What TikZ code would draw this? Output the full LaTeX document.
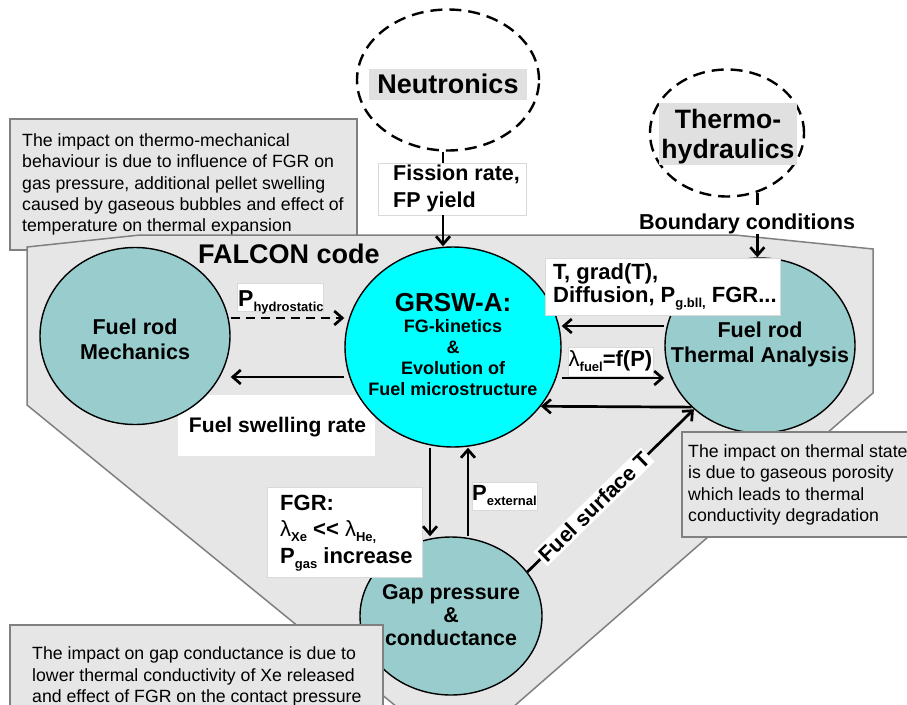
\documentclass[tikz,border=0pt]{standalone}
\usepackage{fontspec}
\setmainfont{Liberation Sans}
\usetikzlibrary{arrows.meta,shapes.geometric}
\definecolor{tealc}{RGB}{153,204,204}
\definecolor{cyanc}{RGB}{0,255,255}
\definecolor{panel}{RGB}{230,230,230}
\definecolor{edge}{RGB}{128,128,128}
\definecolor{labg}{RGB}{224,224,224}
\newcommand\fsz[2]{\fontsize{#1}{#2}\selectfont}
\newcommand\sub[1]{\raisebox{-5pt}{\fsz{13}{13}\bfseries #1}}
\newcommand\lam{{\mdseries λ}}
\begin{document}
\begin{tikzpicture}[x=1pt,y=-1pt,
  circ/.style={ellipse, draw=black, line width=1.4pt, inner sep=0pt},
  ctext/.style={inner sep=0pt, align=center, font=\fsz{21.5}{25}\bfseries},
  dcirc/.style={ellipse, draw=black, line width=2.4pt, dash pattern=on 12pt off 7pt, inner sep=0pt},
  note/.style={rectangle, draw=edge, fill=panel, line width=1.2pt, inner sep=0pt},
  notetext/.style={inner sep=0pt, align=left, anchor=west, font=\fsz{17.7}{21.3}},
  wbox/.style={rectangle, fill=white, draw=gray!30, line width=0.6pt, inner sep=0pt},
  lbl/.style={inner sep=0pt, font=\fsz{22}{23}\bfseries},
  arr/.style={line width=2.7pt, -{Straight Barb[length=8pt,width=14pt]}},
  darr/.style={arr, dash pattern=on 9pt off 6pt},
  dline/.style={line width=2.4pt, dash pattern=on 12pt off 6pt}
]
\useasboundingbox (0,0) rectangle (907,704);
\clip (0,0) rectangle (907,704);
\fill[white] (0,0) rectangle (907,704);

% top-left note (under the panel)
\node[note, minimum width=347pt, minimum height=131pt] (n1box) at (183.5,184.5) {};
\node[notetext] (n1) at (22,184.5) {The impact on thermo-mechanical\\behaviour is due to influence of FGR on\\gas pressure, additional pellet swelling\\caused by gaseous bubbles and effect of\\temperature on thermal expansion};

% FALCON panel
\draw[fill=panel, draw=edge, line width=1.5pt] (27,247) -- (140,235) -- (735,235) -- (873,249) -- (873,393) -- (457,756) -- (27,405) -- cycle;
\node[anchor=base west, inner sep=0pt, font=\fsz{27}{30}\bfseries] (falcon) at (198,263) {FALCON code};

% swelling label box (under circles)
\node[wbox, draw=none, minimum width=197pt, minimum height=61pt] (swellbox) at (276.5,425.5) {};
\node[lbl, font=\fsz{21.1}{25}\bfseries] (swell) at (277.5,427) {Fuel swelling rate};

% circles
\node[circ, fill=tealc, minimum width=190pt, minimum height=177pt] (mech) at (135,336) {};
\node[ctext] (mecht) at (135,339.5) {Fuel rod\\Mechanics};
\node[circ, fill=cyanc, minimum width=216pt, minimum height=200pt] (grsw) at (453,347) {};
\node[ctext, font=\fsz{18}{21}\bfseries] (grswt) at (453,344.5) {{\fsz{26}{21}GRSW-A:}\\FG-kinetics\\\&\\Evolution of\\Fuel microstructure};
\node[circ, fill=tealc, minimum width=190pt, minimum height=175pt] (therm) at (760,345.5) {};
\node[ctext] (thermt) at (760,344.5) {Fuel rod\\Thermal Analysis};
\node[circ, fill=tealc, minimum width=182pt, minimum height=158pt] (gap) at (451,616) {};
\node[ctext, font=\fsz{21.4}{23}\bfseries] (gapt) at (451,615) {Gap pressure\\\&\\conductance};

% Neutronics
\node[dcirc, minimum width=182pt, minimum height=141pt] (neut) at (448,80) {};
\node[fill=labg, minimum width=158pt, minimum height=31pt, inner sep=0pt, font=\fsz{27}{30}\bfseries] (neutl) at (448,84) {Neutronics};
\node[wbox, minimum width=148pt, minimum height=52pt] (fissbox) at (452,189) {};
\node[inner sep=0pt, align=left, anchor=west, font=\fsz{21.5}{27}\bfseries] (fiss) at (393,188.5) {Fission rate,\\FP yield};
\coordinate (nx) at (443,0);
\draw[dline] (nx |- neut.south) -- (nx |- fissbox.north);
\draw[arr] (nx |- fissbox.south) -- (nx |- grsw.north);

% Thermo-hydraulics
\node[dcirc, minimum width=154pt, minimum height=127pt] (th) at (727,133) {};
\node[fill=labg, minimum width=138pt, minimum height=62pt, inner sep=0pt] (thbox) at (728,134) {};
\node[inner sep=0pt, align=center, font=\fsz{26.6}{30}\bfseries] (thl) at (728,137) {Thermo-\\hydraulics};
\node[inner sep=0pt, font=\fsz{21.6}{25}\bfseries] (bc) at (747,224) {Boundary conditions};
\coordinate (thb) at (th.-63);
\path (bc.north) ++(0,-7) coordinate (bcn);
\draw[dline] (thb) -- (thb |- bcn);
\draw[arr] (thb |- bc.south) -- (thb |- therm.north);

% labels
\node[wbox, minimum width=86pt, minimum height=28pt] (phydbox) at (280,297) {};
\node[lbl, anchor=base west, font=\fsz{23}{24}\bfseries] (phyd) at (238,306) {P\sub{hydrostatic}};
\node[wbox, minimum width=235pt, minimum height=57pt] (tgbox) at (662.5,286.5) {};
\node[lbl, align=left, anchor=west] (tg) at (553,287) {T, grad(T),\\Diffusion, P\sub{g.bll,} FGR...};
\node[wbox, minimum width=85pt, minimum height=29pt] (lfbox) at (610.5,361.5) {};
\node[lbl] (lf) at (610.5,361) {\lam\sub{fuel}=f(P)};
\node[wbox, minimum width=65pt, minimum height=28pt] (pextbox) at (504.5,496) {};
\node[lbl] (pext) at (504.5,495) {P\sub{external}};
\node[wbox, minimum width=155pt, minimum height=90pt] (fgrbox) at (344.5,532) {};
\node[lbl, align=left, anchor=west, font=\fsz{22}{26.5}\bfseries] (fgr) at (280,533) {FGR:\\\lam\sub{Xe} <\kern0pt< \lam\sub{He,}\\P\sub{gas} increase};

% connectors
\draw[darr] (mech.east |- 0,318) -- (grsw.west |- 0,318);
\draw[arr] (grsw.west |- 0,377) -- (mech.east |- 0,377);
\draw[arr] (therm.west |- 0,326) -- (grsw.east |- 0,326);
\draw[arr] (grsw.east |- 0,378) -- (therm.west |- 0,378);
\draw[arr] (therm.222.3) -- (grsw.-34.8);
\draw[arr] (grsw.south -| 430,0) -- (gap.north -| 430,0);
\draw[arr] (gap.north -| 468,0) -- (grsw.south -| 468,0);
\draw[arr] (gap.30) -- node[sloped, pos=0.4, fill=white, inner sep=2pt, font=\fsz{21.5}{25}\bfseries] (fst) {Fuel surface T} (therm.224.8);

% notes on top
\node[note, minimum width=230pt, minimum height=105pt] (n2box) at (797,484.5) {};
\node[notetext] (n2) at (688,485) {The impact on thermal state\\is due to gaseous porosity\\which leads to thermal\\conductivity degradation};
\node[note, minimum width=373pt, minimum height=95pt] (n3box) at (196.5,672.5) {};
\node[notetext] (n3) at (32,676.5) {The impact on gap conductance is due to\\lower thermal conductivity of Xe released\\and effect of FGR on the contact pressure};
\end{tikzpicture}
\end{document}
